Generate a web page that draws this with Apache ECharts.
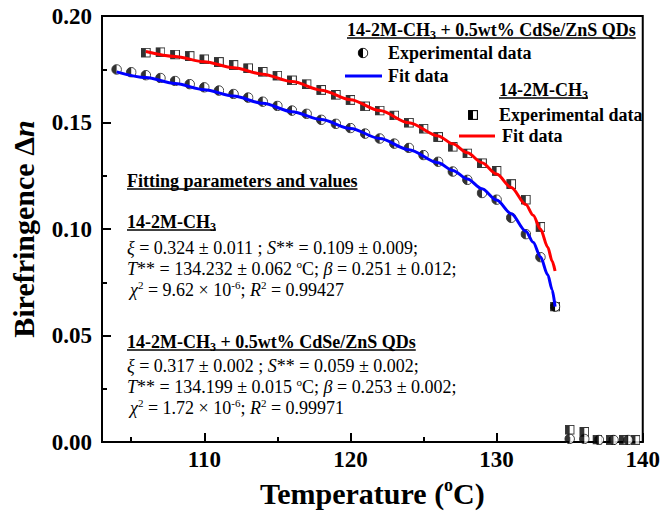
<!DOCTYPE html>
<html><head><meta charset="utf-8">
<script src="https://cdn.jsdelivr.net/npm/echarts@6/dist/echarts.min.js"></script>
<style>html,body{margin:0;padding:0;background:#fff}#c{width:663px;height:513px}</style>
</head><body><div id="c"></div>
<script>
// ---------- data ----------
const tempQds = [104,105,106,107,108,109,110,111,112,113,114,115,116,117,118,119,120,121,122,123,124,125,126,127,128,129,130,131,132,133,134,135,136,137,138,139];
const dnQds   = [0.1749,0.1736,0.1722,0.1709,0.1695,0.1680,0.1665,0.1650,0.1634,0.1617,0.1598,0.1578,0.1556,0.1541,0.1513,0.1494,0.1474,0.1448,0.1425,0.1401,0.1381,0.1347,0.1316,0.1270,0.1231,0.1169,0.1138,0.1053,0.0976,0.0868,0.0636,0.0015,0.0015,0.0010,0.0010,0.0010];

const tempPure = [106,107,108,109,110,111,112,113,114,115,116,117,118,119,120,121,122,123,124,125,126,127,128,129,130,131,132,133,134,135,136,136.9,137.8,138.7,139.5];
const dnPure   = [0.1828,0.1830,0.1819,0.1812,0.1797,0.1784,0.1770,0.1755,0.1738,0.1720,0.1698,0.1680,0.1653,0.1630,0.1606,0.1576,0.1556,0.1533,0.1499,0.1471,0.1432,0.1386,0.1355,0.1309,0.1273,0.1211,0.1138,0.1010,0.0636,0.0058,0.0048,0.0012,0.0010,0.0010,0.0010];

const fitTempQds = [104,106,108,110,112,114,116,118,120,122,124,126,127,128,129,130,131,132,132.5,133,133.5,133.8,134];
const fitQds     = [0.1738,0.1711,0.1683,0.1654,0.1624,0.1590,0.1551,0.1514,0.1472,0.1425,0.1372,0.1311,0.1275,0.1235,0.1189,0.1136,0.1072,0.0990,0.0938,0.0870,0.0785,0.0715,0.0636];

const fitTempPure = [106,108,110,112,114,116,118,120,122,124,126,127,128,129,130,131,132,132.5,133,133.5,133.8,134];
const fitPure     = [0.1833,0.1810,0.1785,0.1757,0.1727,0.1692,0.1652,0.1607,0.1556,0.1499,0.1437,0.1400,0.1358,0.1311,0.1258,0.1195,0.1115,0.1065,0.1000,0.0915,0.0850,0.0803];

const xMajorTicks = [110,120,130,140];
const xMinorTicks = [105,115,125,135];

// ---------- styling helpers ----------
const FF = '"Liberation Serif","Times New Roman",serif';
const pair = (xs, ys) => xs.map((x, i) => [x, ys[i]]);

function svgUri(s){ return 'data:image/svg+xml;charset=utf-8,' + encodeURIComponent(s); }
const circleSvg = svgUri("<svg xmlns='http://www.w3.org/2000/svg' width='22' height='22' viewBox='0 0 22 22'><circle cx='11' cy='11' r='9.6' fill='white' stroke='black' stroke-width='1.8'/><path d='M11 1.4 A9.6 9.6 0 0 0 11 20.6 Z' fill='black'/></svg>");
const squareSvg = svgUri("<svg xmlns='http://www.w3.org/2000/svg' width='20' height='20' viewBox='0 0 20 20'><rect x='1.2' y='1.2' width='17.6' height='17.6' fill='white' stroke='black' stroke-width='2.2'/><rect x='1.2' y='1.2' width='8.8' height='17.6' fill='black'/></svg>");

function rs(size, weight, style, lh, va){
  const o = {fontFamily: FF, fontSize: size, fontWeight: weight, fontStyle: style, lineHeight: lh, fill: '#000', color: '#000'};
  if (va) o.verticalAlign = va;
  return o;
}
const RICH = {
  hb: rs(18, 'bold', 'normal', 22),
  hs: rs(12, 'bold', 'normal', 8, 'bottom'),
  r:  rs(18, 'normal', 'normal', 22),
  i:  rs(18, 'normal', 'italic', 22),
  sp: rs(11, 'normal', 'normal', 10, 'top')
};

const mctx = document.createElement('canvas').getContext('2d');
function tw(font, s){ mctx.font = font; return mctx.measureText(s).width; }
const HB = 'bold 18px ' + FF, HS = 'bold 12px ' + FF;

function txt(x, y, rich){
  return {type: 'text', z: 100, style: {x: x, y: y, text: rich, rich: RICH, align: 'left', verticalAlign: 'middle', fontFamily: FF, fontSize: 18, fill: '#000'}};
}
function uline(x, y, w){
  return {type: 'line', z: 100, shape: {x1: x, y1: y, x2: x + w, y2: y}, style: {stroke: '#000', lineWidth: 1.3}};
}
function hline(x1, x2, y, color){
  return {type: 'line', z: 100, shape: {x1: x1, y1: y, x2: x2, y2: y}, style: {stroke: color, lineWidth: 3}};
}
function img(cx, cy, size, uri){
  return {type: 'image', z: 100, style: {image: uri, x: cx - size / 2, y: cy - size / 2, width: size, height: size}};
}

const wCH = tw(HB, '14-2M-CH') + tw(HS, '3');
const wQD = wCH + tw(HB, ' + 0.5wt% CdSe/ZnS QDs');
const wFit = tw(HB, 'Fitting parameters and values');

const graphics = [
  // legend block 1
  txt(347, 30, '{hb|14-2M-CH}{hs|3}{hb| + 0.5wt% CdSe/ZnS QDs}'), uline(347, 38, wQD),
  img(363, 53, 11, circleSvg), txt(388, 53, '{hb|Experimental data}'),
  hline(345, 382, 76, '#0000ff'), txt(388, 76, '{hb|Fit data}'),
  // legend block 2
  txt(499, 90, '{hb|14-2M-CH}{hs|3}'), uline(499, 98, wCH),
  img(473, 115, 10, squareSvg), txt(499, 115, '{hb|Experimental data}'),
  hline(459, 495, 136, '#ff0000'), txt(502, 136, '{hb|Fit data}'),
  // fitting parameters block
  txt(127, 181, '{hb|Fitting parameters and values}'), uline(127, 189, wFit),
  txt(127, 222, '{hb|14-2M-CH}{hs|3}'), uline(127, 230, wCH),
  txt(127, 248, '{i|ξ}{r| = 0.324 ± 0.011 ; }{i|S}{r|** = 0.109 ± 0.009;}'),
  txt(127, 269, '{i|T}{r|** = 134.232 ± 0.062 }{sp|o}{r|C; }{i|β}{r| = 0.251 ± 0.012;}'),
  txt(130, 290, '{i|χ}{sp|2}{r| = 9.62 × 10}{sp|-6}{r|; }{i|R}{sp|2}{r| = 0.99427}'),
  txt(127, 342, '{hb|14-2M-CH}{hs|3}{hb| + 0.5wt% CdSe/ZnS QDs}'), uline(127, 350, wQD),
  txt(127, 366, '{i|ξ}{r| = 0.317 ± 0.002 ; }{i|S}{r|** = 0.059 ± 0.002;}'),
  txt(127, 387, '{i|T}{r|** = 134.199 ± 0.015 }{sp|o}{r|C; }{i|β}{r| = 0.253 ± 0.002;}'),
  txt(130, 408, '{i|χ}{sp|2}{r| = 1.72 × 10}{sp|-6}{r|; }{i|R}{sp|2}{r| = 0.99971}')
];

const chart = echarts.init(document.getElementById('c'), null, {renderer: 'svg'});
const axisLine = {show: true, onZero: false, lineStyle: {color: '#000', width: 2}};
const tickLabel = {color: '#000', fontFamily: FF, fontWeight: 'bold', fontSize: 23};

chart.setOption({
  animation: false,
  backgroundColor: '#fff',
  grid: {left: 98, right: 16, top: 16, bottom: 66, show: true, borderColor: '#000', borderWidth: 2, backgroundColor: 'transparent'},
  xAxis: [
    {
      type: 'value', min: 103, max: 140,
      name: '{t|Temperature (}{s|o}{t|C)}', nameLocation: 'middle', nameGap: 29,
      nameTextStyle: {rich: {
        t: {fontFamily: FF, fontWeight: 'bold', fontSize: 30, lineHeight: 34, color: '#000'},
        s: {fontFamily: FF, fontWeight: 'bold', fontSize: 18, lineHeight: 16, verticalAlign: 'top', color: '#000'}
      }},
      axisLine: axisLine,
      axisTick: {show: true, inside: true, length: 9, lineStyle: {color: '#000', width: 2}, customValues: xMajorTicks},
      axisLabel: Object.assign({margin: 6, customValues: xMajorTicks, showMinLabel: true, showMaxLabel: true}, tickLabel),
      splitLine: {show: false}
    },
    {
      type: 'value', min: 103, max: 140, position: 'bottom',
      axisLine: {show: false},
      axisTick: {show: true, inside: true, length: 5, lineStyle: {color: '#000', width: 2}, customValues: xMinorTicks},
      axisLabel: {show: false},
      splitLine: {show: false}
    }
  ],
  yAxis: {
    type: 'value', min: 0, max: 0.2, interval: 0.05,
    name: '{b|Birefringence Δ}{bi|n}', nameLocation: 'middle', nameRotate: 90, nameGap: 62,
    nameTextStyle: {rich: {
      b: {fontFamily: FF, fontWeight: 'bold', fontSize: 30, lineHeight: 34, color: '#000'},
      bi: {fontFamily: FF, fontWeight: 'bold', fontStyle: 'italic', fontSize: 30, lineHeight: 34, color: '#000'}
    }},
    axisLine: axisLine,
    axisTick: {show: true, inside: true, length: 9, lineStyle: {color: '#000', width: 2}},
    minorTick: {show: true, splitNumber: 2, length: 5, lineStyle: {color: '#000', width: 2}},
    axisLabel: Object.assign({margin: 10, formatter: v => v.toFixed(2)}, tickLabel),
    splitLine: {show: false}, minorSplitLine: {show: false}
  },
  series: [
    {name: '14-2M-CH3 experimental', type: 'scatter', data: pair(tempPure, dnPure), symbol: 'image://' + squareSvg, symbolSize: 10, z: 3},
    {name: 'QDs experimental', type: 'scatter', data: pair(tempQds, dnQds), symbol: 'image://' + circleSvg, symbolSize: 11, z: 4},
    {name: '14-2M-CH3 fit', type: 'line', data: pair(fitTempPure, fitPure), showSymbol: false, smooth: 0.3, smoothMonotone: 'x', lineStyle: {color: '#ff0000', width: 3}, z: 5},
    {name: 'QDs fit', type: 'line', data: pair(fitTempQds, fitQds), showSymbol: false, smooth: 0.3, smoothMonotone: 'x', lineStyle: {color: '#0000ff', width: 3}, z: 6}
  ],
  graphic: graphics
});
</script></body></html>
